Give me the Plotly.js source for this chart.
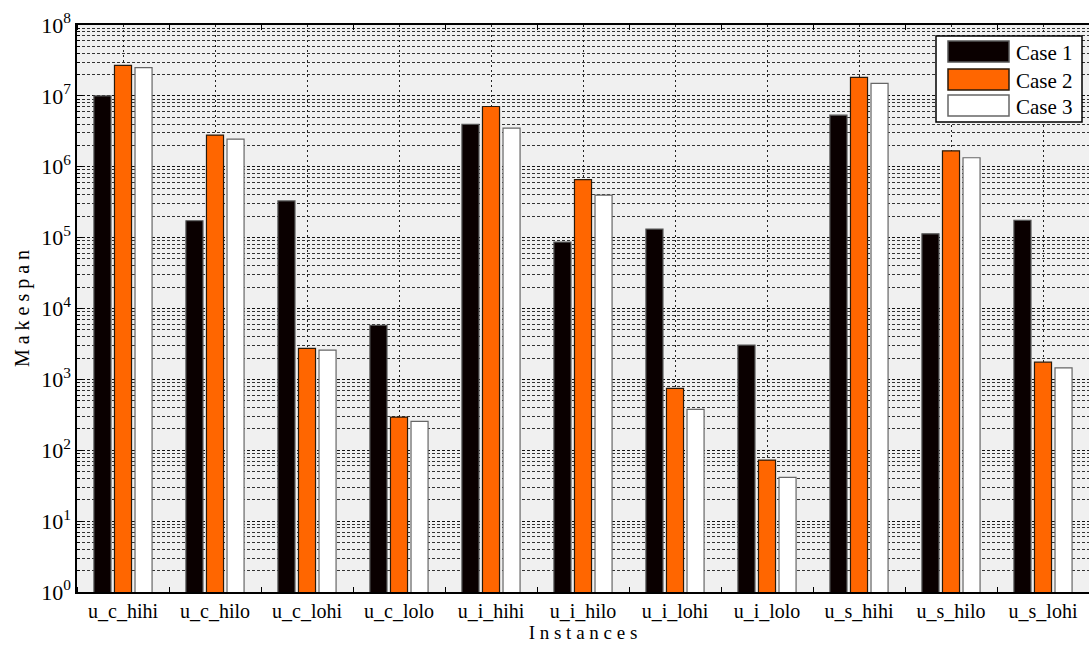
<!DOCTYPE html>
<html>
<head>
<meta charset="utf-8">
<script src="https://cdn.plot.ly/plotly-3.0.1.min.js"></script>
<style>
html,body{margin:0;padding:0;background:#fff;font-family:'Liberation Serif';}
#chart{width:1089px;height:648px;}
</style>
</head>
<body>
<div id="chart"></div>
<script>
const categories = ['u_c_hihi','u_c_hilo','u_c_lohi','u_c_lolo','u_i_hihi','u_i_hilo','u_i_lohi','u_i_lolo','u_s_hihi','u_s_hilo','u_s_lohi'];
const seriesNames = ['Case 1','Case 2','Case 3'];
const case1 = [1.0e7, 1.73e5, 3.3e5, 5.8e3, 3.95e6, 8.65e4, 1.32e5, 3.05e3, 5.34e6, 1.13e5, 1.75e5];
const case2 = [2.7e7, 2.8e6, 2.74e3, 294, 7.08e6, 6.6e5, 747, 72.7, 1.82e7, 1.68e6, 1.75e3];
const case3 = [2.5e7, 2.45e6, 2.59e3, 255, 3.5e6, 3.97e5, 378, 41.5, 1.5e7, 1.34e6, 1.45e3];
const yTickVals = [1,1e1,1e2,1e3,1e4,1e5,1e6,1e7,1e8];
const yTickExp = ['0','1','2','3','4','5','6','7','8'];

const FONT = 'Liberation Serif';
const W = 1089, H = 648, ML = 77, MR = 0, MT = 25, MB = 56;
const PW = W - ML - MR, PH = H - MT - MB;
const px = v => (v - ML) / PW;          // pixel -> paper x
const py = v => (H - MB - v) / PH;      // pixel -> paper y

const xIdx = categories.map((c,i)=>i);
const fills = ['#0a0000','#ff6600','#ffffff'];
const lines = ['#555555','#2a1a0a','#666666'];
const data = [case1, case2, case3].map((vals,k)=>({
  type:'bar', name: seriesNames[k], x: xIdx, y: vals,
  marker:{color:fills[k], line:{color:lines[k], width:1.2}},
  hoverinfo:'skip'
}));

const shapes = [{
  type:'rect', xref:'paper', yref:'paper',
  x0:px(936), x1:px(1082), y0:py(36), y1:py(122),
  fillcolor:'#ffffff', line:{color:'#000', width:1.5}, layer:'above'
}];
const swatchTops = [41, 69, 95];
const swatchH = 21;
const annotations = [];
seriesNames.forEach((n,k)=>{
  shapes.push({
    type:'rect', xref:'paper', yref:'paper',
    x0:px(948), x1:px(1009), y0:py(swatchTops[k]), y1:py(swatchTops[k]+swatchH),
    fillcolor:fills[k], line:{color:lines[k], width:1.5}, layer:'above'
  });
  annotations.push({
    xref:'paper', yref:'paper', x:px(1014), y:py(swatchTops[k]+swatchH/2+1),
    xanchor:'left', yanchor:'middle', text:n, showarrow:false,
    font:{family:FONT, size:21, color:'#000000'}
  });
});

const layout = {
  width:W, height:H,
  margin:{l:ML, r:MR, t:MT, b:MB},
  paper_bgcolor:'#ffffff', plot_bgcolor:'#f0f0f0',
  barmode:'group', bargap:0.33, bargroupgap:0.17,
  font:{family:FONT, size:18, color:'#000000'},
  showlegend:false,
  xaxis:{
    range:[-0.5,10.5], tickmode:'array', tickvals:xIdx, ticktext:categories,
    ticks:'', tickfont:{family:FONT, size:20, color:'#000000'},
    showgrid:true, gridcolor:'#222', griddash:'2px,3px', gridwidth:1,
    zeroline:false, showline:true, linecolor:'#000', linewidth:1.5, mirror:'allticks',
    minor:{tick0:0.5, dtick:1, ticks:'inside', ticklen:5, tickcolor:'#000', showgrid:false},
    title:{text:'I n s t a n c e s', font:{family:FONT, size:19}, standoff:4}
  },
  yaxis:{
    type:'log', range:[0,8], tickmode:'array', tickvals:yTickVals,
    ticktext:yTickExp.map(e=>'10<sup>'+e+'</sup>'),
    ticks:'inside', ticklen:6, tickcolor:'#000',
    tickfont:{family:FONT, size:22, color:'#000000'},
    showgrid:true, gridcolor:'#111', griddash:'3px,2px', gridwidth:1,
    zeroline:false, showline:true, linecolor:'#000', linewidth:1.5, mirror:false,
    minor:{dtick:'D1', ticks:'inside', ticklen:3, tickcolor:'#000', showgrid:true, gridcolor:'#333', griddash:'3px,2px', gridwidth:1},
    title:{text:'M a k e s p a n', font:{family:FONT, size:20}, standoff:6}
  },
  shapes:shapes,
  annotations:annotations
};

function draw(){ Plotly.newPlot('chart', data, layout, {displayModeBar:false}); }
if (document.fonts && document.fonts.load) {
  document.fonts.load('20px "Liberation Serif"').then(draw, draw);
} else { draw(); }
</script>
</body>
</html>
